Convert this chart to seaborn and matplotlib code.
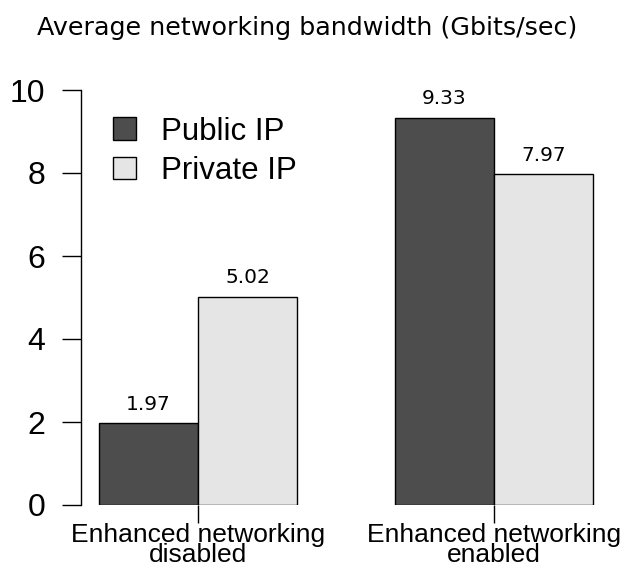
import matplotlib
matplotlib.use("Agg")
import matplotlib.pyplot as plt
import seaborn as sns
import pandas as pd
from matplotlib.patches import Patch

groups = ["Enhanced networking\ndisabled", "Enhanced networking\nenabled"]
series = ["Public IP", "Private IP"]
public_vals = [1.97, 9.33]
private_vals = [5.02, 7.97]
yticks = [0, 2, 4, 6, 8, 10]
colors = ["#4d4d4d", "#e5e5e5"]

rows = []
for g, pu, pr in zip(groups, public_vals, private_vals):
    rows.append({"group": g, "type": series[0], "value": pu})
    rows.append({"group": g, "type": series[1], "value": pr})
df = pd.DataFrame(rows)

sns.set_style("white")
plt.rcParams['font.family'] = ['Liberation Sans', 'DejaVu Sans']
plt.rcParams['text.color'] = 'black'
plt.rcParams['xtick.color'] = 'black'
plt.rcParams['ytick.color'] = 'black'
plt.rcParams['xtick.labelcolor'] = 'black'
plt.rcParams['ytick.labelcolor'] = 'black'

W, H = 623, 571
fig = plt.figure(figsize=(W / 100, H / 100), dpi=100)
left_px, right_px, bottom_px, top_px = 81, 610, 505, 80
ax = fig.add_axes([left_px / W, 1 - bottom_px / H,
                   (right_px - left_px) / W, (bottom_px - top_px) / H])

sns.barplot(data=df, x="group", y="value", hue="type", hue_order=series,
            order=groups, palette=colors, edgecolor="black", linewidth=1.0,
            width=0.67, gap=0, ax=ax, legend=False, saturation=1)

ax.set_xlim(-0.395, 1.392)
ax.set_ylim(0, (bottom_px - top_px) / 41.5)

for cont in ax.containers:
    ax.bar_label(cont, fmt="%.2f", padding=7, fontsize=14.5,
                 family="DejaVu Sans", color="black")

for s in ["top", "right", "bottom"]:
    ax.spines[s].set_visible(False)
ax.spines["left"].set_bounds(0, 10)
ax.spines["left"].set_color("black")
ax.spines["left"].set_linewidth(1.0)

ax.set_yticks(yticks)
ax.set_yticklabels([str(v) for v in yticks], fontsize=23)
ax.tick_params(axis="y", direction="out", length=13.5, width=1.0,
               color="black", labelcolor="black", pad=12, left=True)
ax.tick_params(axis="x", direction="out", length=13, width=1.0,
               color="black", labelcolor="black", pad=0, bottom=True,
               labelsize=19)
for lab in ax.get_xticklabels():
    lab.set_multialignment("center")
    lab.set_linespacing(0.78)

ax.set_xlabel("")
ax.set_ylabel("")

handles = [Patch(facecolor=c, edgecolor="black", linewidth=1.0) for c in colors]
ax.legend(handles, series, loc="upper left", frameon=False, fontsize=22.5,
          bbox_to_anchor=(100 / W, 1 - 104 / H), bbox_transform=fig.transFigure,
          handlelength=0.75, handleheight=0.75, handletextpad=0.8,
          labelspacing=0.3, borderaxespad=0)

fig.text(307 / W, 1 - 28 / H, "Average networking bandwidth (Gbits/sec)",
         ha="center", va="center", fontsize=18.3, family="DejaVu Sans",
         color="black")

fig.savefig("out.png", dpi=100)
